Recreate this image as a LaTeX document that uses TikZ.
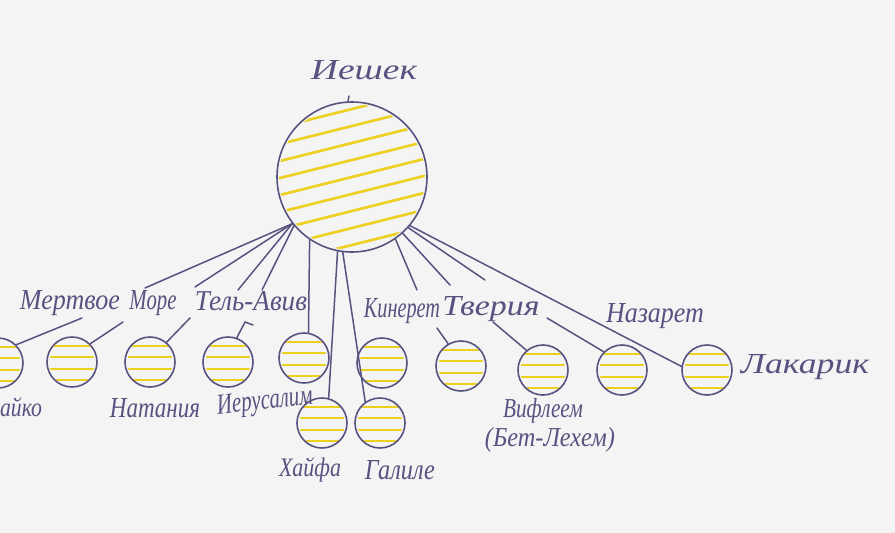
\documentclass[tikz,border=0pt]{standalone}
\usepackage{fontspec}
\setmainfont{Liberation Serif}
\usepackage{graphicx}
\definecolor{ink}{RGB}{88,82,128}
\definecolor{hatch}{RGB}{236,208,30}
\definecolor{paper}{RGB}{244,244,244}
\tikzset{
  inkline/.style={draw=ink, line width=1.5pt, line cap=round},
  hub/.style={circle, draw=ink, line width=1.6pt, minimum size=150pt, inner sep=0pt},
  town/.style={circle, draw=ink, line width=1.6pt, minimum size=50pt, inner sep=0pt},
  lbl/.style={text=ink, inner sep=0pt, font=\itshape},
  yel/.style={draw=hatch, line width=2.6pt, line cap=round},
}
\newcommand\hw[2]{\resizebox{#1}{19pt}{#2}}
\newcommand\smallhatch[2]{%
  \begin{scope}
    \clip (#1,#2) circle (24pt);
    \foreach \dy in {-16,-5,7,18}
      \draw[yel] (#1-21,#2+\dy) -- (#1+21,#2+\dy);
  \end{scope}}
\begin{document}
\begin{tikzpicture}[x=1pt,y=-1pt]
\fill[paper] (0,0) rectangle (895,533);
\useasboundingbox (0,0) rectangle (895,533);

% hatching of the big circle
\begin{scope}
  \clip (352,177) circle (73pt);
  \foreach \k in {-5,...,5}
    \draw[yel] (272,177+\k*17+20) -- (432,177+\k*17-20);
\end{scope}
% hatching of the small circles
\foreach \px/\py in {-2/363, 72/362, 150/362, 228/362, 304/358, 382/363, 461/366, 543/370, 622/370, 707/370, 322/423, 380/423}
  {\smallhatch{\px}{\py}}

% circles
\node[hub] (hub) at (352,177) {};
\node[town] (c1) at (-2,363) {};
\node[town] (c2) at (72,362) {};
\node[town] (c3) at (150,362) {};
\node[town] (c4) at (228,362) {};
\node[town] (c5) at (304,358) {};
\node[town] (c6) at (382,363) {};
\node[town] (c7) at (461,366) {};
\node[town] (c8) at (543,370) {};
\node[town] (c9) at (622,370) {};
\node[town] (c10) at (707,370) {};
\node[town] (d1) at (322,423) {};
\node[town] (d2) at (380,423) {};

% labels
\node[lbl] (top) at (364,70) {\hw{106pt}{Иешек}};
\node[lbl] (mert) at (70,303) {\hw{100pt}{Мертвое}};
\node[lbl] (more) at (153,303) {\hw{47pt}{Море}};
\node[lbl] (tel) at (251,301) {\hw{112pt}{Тель-Авив}};
\node[lbl] (kin) at (402,311) {\hw{76pt}{Кинерет}};
\node[lbl] (tver) at (491,309) {\hw{97pt}{Тверия}};
\node[lbl] (naz) at (655,316) {\hw{98pt}{Назарет}};
\node[lbl] (lak) at (805,367) {\hw{128pt}{Лакарик}};
\node[lbl] (aiko) at (21,407) {\hw{42pt}{айко}};
\node[lbl] (nat) at (155,408) {\hw{90pt}{Натания}};
\node[lbl, rotate=6] (ier) at (265,403) {\hw{96pt}{Иерусалим}};
\node[lbl] (haifa) at (310,470) {\hw{62pt}{Хайфа}};
\node[lbl] (gal) at (400,470) {\hw{70pt}{Галиле}};
\node[lbl] (vif) at (543,411) {\hw{80pt}{Вифлеем}};
\node[lbl] (bet) at (550,440) {\hw{130pt}{(Бет-Лехем)}};

% free ends of the connectors
\coordinate (t0) at (349,96);
\coordinate (e1) at (145,288);
\coordinate (e2) at (195,287);
\coordinate (e3) at (238,290);
\coordinate (e4) at (262,290);
\coordinate (r1) at (417,290);
\coordinate (r2) at (450,285);
\coordinate (r3) at (485,280);
\coordinate (s1) at (82,318);
\coordinate (s2) at (123,322);
\coordinate (s3) at (190,318);
\coordinate (s4) at (245,322);
\coordinate (s4b) at (253,325);
\coordinate (s7) at (437,328);
\coordinate (s8) at (493,322);
\coordinate (s9) at (547,318);

% connectors from the big circle
\draw[inkline] (hub.93) -- (t0);
\draw[inkline] (hub.218) -- (e1);
\draw[inkline] (hub.218) -- (e2);
\draw[inkline] (hub.218) -- (e3);
\draw[inkline] (hub.220) -- (e4);
\draw[inkline] (hub.236) -- (c5.80);
\draw[inkline] (hub.259) -- (d1.75);
\draw[inkline] (hub.263) -- (d2.125);
\draw[inkline] (hub.305) -- (r1);
\draw[inkline] (hub.312) -- (r2);
\draw[inkline] (hub.318) -- (r3);
\draw[inkline] (hub.320) -- (c10.172);

% connectors from the labels to the small circles
\draw[inkline] (s1) -- (c1.45);
\draw[inkline] (s2) -- (c2.45);
\draw[inkline] (s3) -- (c3.50);
\draw[inkline] (s4) -- (c4.70);
\draw[inkline] (s4) -- (s4b);
\draw[inkline] (s7) -- (c7.120);
\draw[inkline] (s8) -- (c8.130);
\draw[inkline] (s9) -- (c9.135);
\end{tikzpicture}
\end{document}
